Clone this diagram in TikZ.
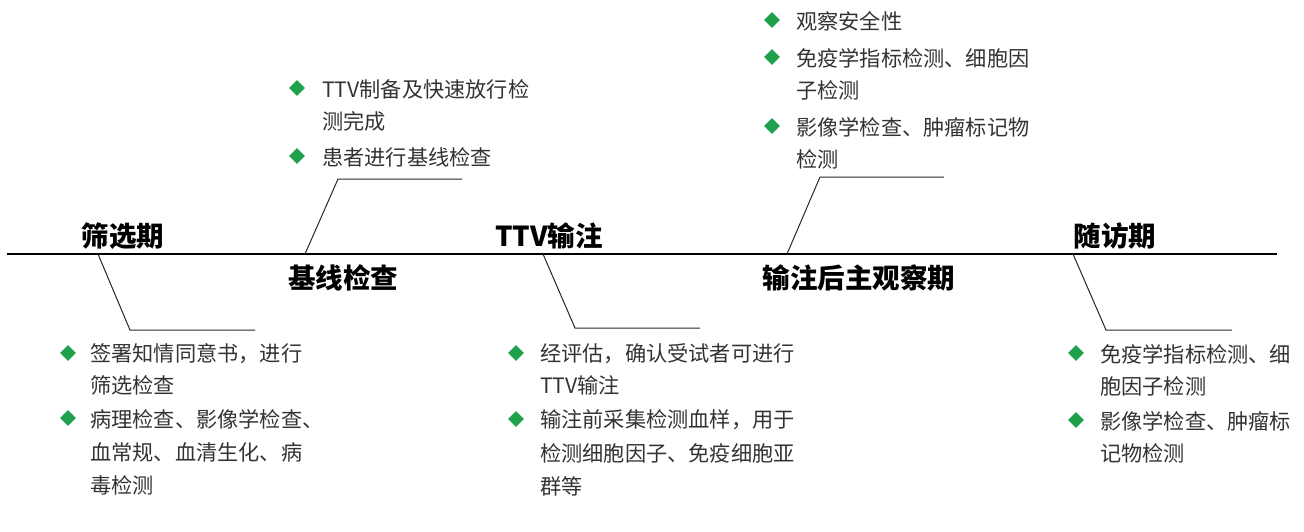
\documentclass[tikz,border=0pt]{standalone}
\usepackage{fontspec}
\setmainfont{Noto Sans CJK SC}
\usetikzlibrary{shapes.geometric}
\definecolor{bulletgreen}{HTML}{1FA04A}
\definecolor{txtgray}{HTML}{333333}
\tikzset{
  x=1pt,y=-1pt,
  mainline/.style={line width=2pt,black},
  leader/.style={line width=1pt,black!85},
  phase/.style={font=\fontsize{27.5}{30}\selectfont\bfseries,text=black,inner sep=0pt},
  txt/.style={font=\fontsize{21.2}{24}\selectfont,text=txtgray,anchor=west,inner sep=0pt},
  bul/.style={diamond,fill=bulletgreen,inner sep=0pt,minimum size=16pt}
}
\begin{document}
\begin{tikzpicture}
\useasboundingbox (0,0) rectangle (1304,531);
% main line
\coordinate (L) at (7,254);
\coordinate (R) at (1277,254);
\draw[mainline] (L) -- (R);
% phase labels
\node[phase] (p1) at (123,236) {筛选期};
\node[phase] (p2) at (343,278) {基线检查};
\node[phase] (p3) at (549,236) {TTV输注};
\node[phase] (p4) at (859,278) {输注后主观察期};
\node[phase] (p5) at (1115,236) {随访期};
% leaders
\coordinate (j1) at (98,254);  \coordinate (k1) at (130,330);  \coordinate (e1) at (255,330);
\coordinate (j2) at (305,254); \coordinate (k2) at (338,179);  \coordinate (e2) at (462,179);
\coordinate (j3) at (543,254); \coordinate (k3) at (575,328);  \coordinate (e3) at (700,328);
\coordinate (j4) at (787,254); \coordinate (k4) at (820,177);  \coordinate (e4) at (944,177);
\coordinate (j5) at (1073,254);\coordinate (k5) at (1106,330); \coordinate (e5) at (1232,330);
\draw[leader] (j1) -- (k1) -- (e1);
\draw[leader] (j2) -- (k2) -- (e2);
\draw[leader] (j3) -- (k3) -- (e3);
\draw[leader] (j4) -- (k4) -- (e4);
\draw[leader] (j5) -- (k5) -- (e5);
% block A
\node[bul] (ba1) at (68,353) {};
\node[txt] (a1) at (90,354) {签署知情同意书，进行};
\node[txt] (a2) at (90,385) {筛选检查};
\node[bul] (ba2) at (68,418) {};
\node[txt] (a3) at (90,419) {病理检查、影像学检查、};
\node[txt] (a4) at (90,452) {血常规、血清生化、病};
\node[txt] (a5) at (90,485) {毒检测};
% block B
\node[bul] (bb1) at (297,88) {};
\node[txt] (b1) at (322,89) {TTV制备及快速放行检};
\node[txt] (b2) at (322,121) {测完成};
\node[bul] (bb2) at (297,156) {};
\node[txt] (b3) at (322,157) {患者进行基线检查};
% block C
\node[bul] (bc1) at (516,353) {};
\node[txt] (c1) at (540,354) {经评估，确认受试者可进行};
\node[txt] (c2) at (540,385) {TTV输注};
\node[bul] (bc2) at (516,419) {};
\node[txt] (c3) at (540,420) {输注前采集检测血样，用于};
\node[txt] (c4) at (540,453) {检测细胞因子、免疫细胞亚};
\node[txt] (c5) at (540,486) {群等};
% block D
\node[bul] (bd1) at (772,20) {};
\node[txt] (d1) at (796,21) {观察安全性};
\node[bul] (bd2) at (772,57) {};
\node[txt] (d2) at (796,58) {免疫学指标检测、细胞因};
\node[txt] (d3) at (796,90) {子检测};
\node[bul] (bd3) at (772,126) {};
\node[txt] (d4) at (796,127) {影像学检查、肿瘤标记物};
\node[txt] (d5) at (796,159) {检测};
% block E
\node[bul] (be1) at (1076,353) {};
\node[txt] (e1t) at (1100,354) {免疫学指标检测、细};
\node[txt] (e2t) at (1100,386) {胞因子检测};
\node[bul] (be2) at (1076,420) {};
\node[txt] (e3t) at (1100,421) {影像学检查、肿瘤标};
\node[txt] (e4t) at (1100,453) {记物检测};
\end{tikzpicture}
\end{document}
